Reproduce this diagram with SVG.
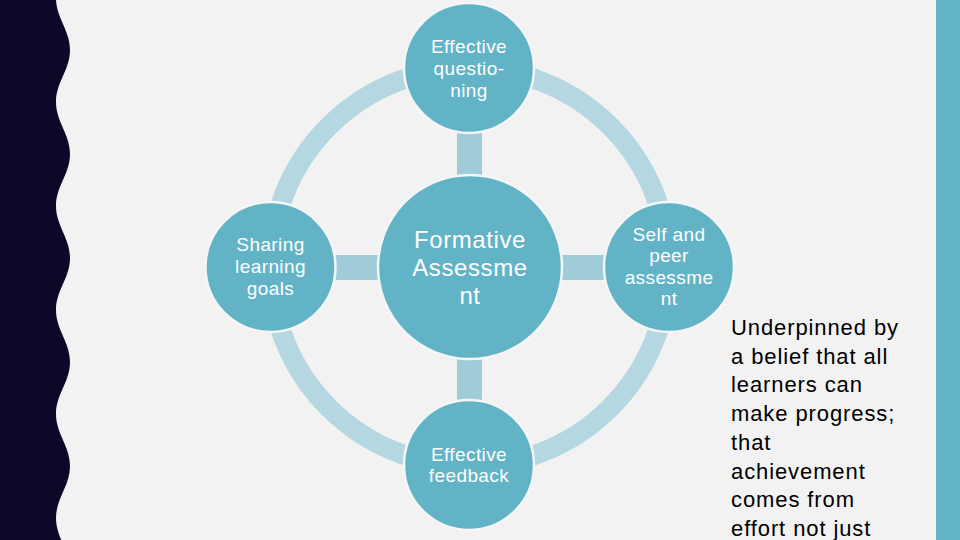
<svg xmlns="http://www.w3.org/2000/svg" width="960" height="540" viewBox="0 0 960 540">
<style>
.node{fill:#63b3c7;stroke:#f4f6f6;stroke-width:2.5}
.lbl{font-family:"Liberation Sans",Arial,sans-serif;fill:#ffffff;text-anchor:middle}
.s{font-size:19px;letter-spacing:0.4px}
.big{font-size:24px;letter-spacing:0.6px}
.conn{fill:#a0ccd9}
.ring{fill:none;stroke:#b4d7e1;stroke-width:20}
.body{font-family:"Liberation Sans",Arial,sans-serif;font-size:22px;letter-spacing:0.9px;fill:#000000}
</style>
<rect x="0" y="0" width="960" height="540" fill="#f2f2f2"/>
<path fill="#0b0828" d="M0,-2 L56,-2 C56,18 70,30 70,50 C70,70 56,82 56,102 C56,122 70,134 70,154 C70,174 56,186 56,206 C56,226 70,238 70,258 C70,278 56,290 56,310 C56,330 70,342 70,362 C70,382 56,394 56,414 C56,434 70,446 70,466 C70,486 56,498 56,518 C56,538 70,550 70,570 L0,570 Z"/>
<rect x="936" y="0" width="24" height="540" fill="#63b3c7"/>
<g id="connectors">
<circle class="ring" cx="469.5" cy="267" r="199"/>
<rect class="conn" x="457" y="128" width="25" height="52"/>
<rect class="conn" x="457" y="354" width="25" height="52"/>
<rect class="conn" x="331" y="255" width="50" height="25"/>
<rect class="conn" x="558" y="255" width="50" height="25"/>
</g>
<g id="center">
<circle class="node" cx="470" cy="267" r="92"/>
<text class="lbl big" x="470" y="248">Formative</text>
<text class="lbl big" x="470" y="276">Assessme</text>
<text class="lbl big" x="470" y="304">nt</text>
</g>
<g id="top">
<circle class="node" cx="469" cy="68" r="65"/>
<text class="lbl s" x="469" y="53">Effective</text>
<text class="lbl s" x="469" y="75">questio-</text>
<text class="lbl s" x="469" y="97">ning</text>
</g>
<g id="left">
<circle class="node" cx="270.5" cy="267" r="65"/>
<text class="lbl s" x="270.5" y="251">Sharing</text>
<text class="lbl s" x="270.5" y="273">learning</text>
<text class="lbl s" x="270.5" y="295">goals</text>
</g>
<g id="right">
<circle class="node" cx="669" cy="267" r="65"/>
<text class="lbl s" x="669" y="241">Self and</text>
<text class="lbl s" x="669" y="262">peer</text>
<text class="lbl s" x="669" y="284">assessme</text>
<text class="lbl s" x="669" y="305">nt</text>
</g>
<g id="bottom">
<circle class="node" cx="469" cy="465" r="65"/>
<text class="lbl s" x="469" y="461">Effective</text>
<text class="lbl s" x="469" y="482">feedback</text>
</g>
<g id="note">
<text class="body" x="731" y="335">Underpinned by</text>
<text class="body" x="731" y="364">a belief that all</text>
<text class="body" x="731" y="392">learners can</text>
<text class="body" x="731" y="421">make progress;</text>
<text class="body" x="731" y="450">that</text>
<text class="body" x="731" y="479">achievement</text>
<text class="body" x="731" y="507">comes from</text>
<text class="body" x="731" y="536">effort not just</text>
</g>
</svg>
